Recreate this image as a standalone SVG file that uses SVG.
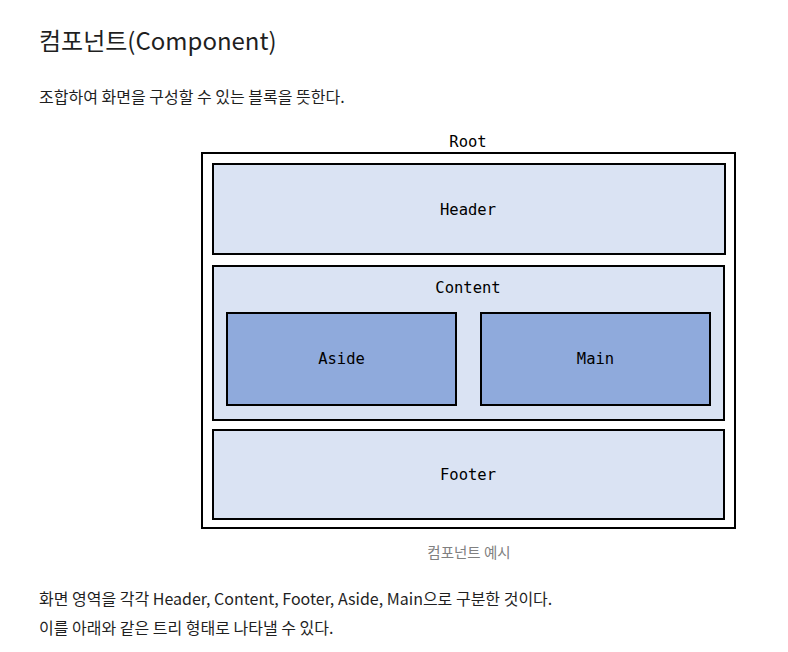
<svg xmlns="http://www.w3.org/2000/svg" width="788" height="652" viewBox="0 0 788 652">
<style>
.body{font-family:"Noto Sans CJK KR","Noto Sans",sans-serif;fill:#1f1f1f}
.mono{font-family:"DejaVu Sans Mono",monospace;font-size:15.5px;fill:#000;text-anchor:middle}
.box{stroke:#000;stroke-width:2}
.light{fill:#dae3f3}
.dark{fill:#8faadc}
</style>
<rect width="788" height="652" fill="#fff"/>
<text class="body" x="39" y="50" font-size="24">컴포넌트(Component)</text>
<text class="body" x="39" y="103" font-size="16">조합하여 화면을 구성할 수 있는 블록을 뜻한다.</text>
<g id="root">
<text class="mono" x="468" y="147">Root</text>
<rect class="box" x="202" y="153" width="533" height="375" fill="#fff"/>
</g>
<g id="header">
<rect class="box light" x="213" y="164" width="512" height="90"/>
<text class="mono" x="468" y="215">Header</text>
</g>
<g id="content">
<rect class="box light" x="213" y="266" width="511" height="154"/>
<text class="mono" x="468" y="293">Content</text>
</g>
<g id="aside">
<rect class="box dark" x="227" y="313" width="229" height="92"/>
<text class="mono" x="341.5" y="364">Aside</text>
</g>
<g id="main">
<rect class="box dark" x="481" y="313" width="229" height="92"/>
<text class="mono" x="595.5" y="364">Main</text>
</g>
<g id="footer">
<rect class="box light" x="213" y="430" width="511" height="89"/>
<text class="mono" x="468" y="480">Footer</text>
</g>
<g id="connectors"></g>
<text class="body" x="469" y="558" font-size="14.5" text-anchor="middle" style="fill:#808080">컴포넌트 예시</text>
<text class="body" x="39" y="605" font-size="16">화면 영역을 각각 Header, Content, Footer, Aside, Main으로 구분한 것이다.</text>
<text class="body" x="39" y="634" font-size="16">이를 아래와 같은 트리 형태로 나타낼 수 있다.</text>
</svg>
